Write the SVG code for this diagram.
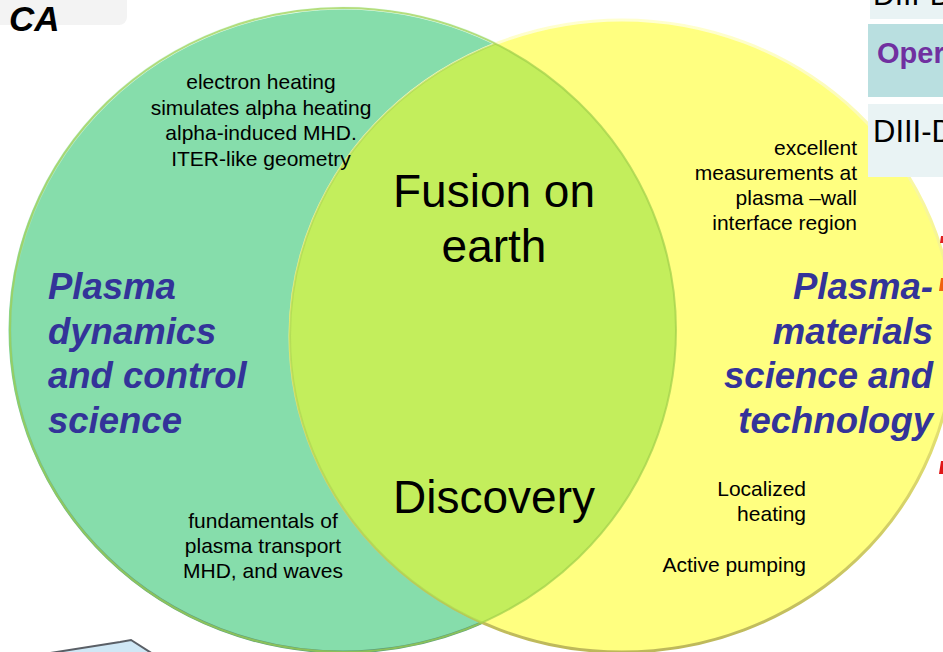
<svg xmlns="http://www.w3.org/2000/svg" width="943" height="652" viewBox="0 0 943 652">
<defs>
<style>
.t{font-family:"Liberation Sans",Arial,sans-serif;fill:#000}
.s{font-size:21px}
.big{font-size:46px}
.h{font-family:"Liberation Sans",Arial,sans-serif;font-size:36.5px;font-weight:bold;font-style:italic;fill:#333399}
.c{text-anchor:middle}
.e{text-anchor:end}
</style>
<linearGradient id="gs" x1="0" y1="0" x2="0" y2="1">
<stop offset="0" stop-color="#e8fff2"/>
<stop offset="0.5" stop-color="#7fd6a4"/>
<stop offset="1" stop-color="#5c9f7b"/>
</linearGradient>
<linearGradient id="ys" x1="0" y1="0" x2="0" y2="1">
<stop offset="0" stop-color="#ffffd0"/>
<stop offset="0.5" stop-color="#f2f07a"/>
<stop offset="1" stop-color="#bdb85a"/>
</linearGradient>
<clipPath id="gclip"><ellipse cx="343" cy="330" rx="333" ry="322"/></clipPath>
</defs>
<rect width="943" height="652" fill="#ffffff"/>
<rect x="-10" y="-10" width="137" height="35" rx="8" fill="#f3f3f3"/>
<g id="box-top">
<rect x="870" y="-5" width="80" height="24" fill="#e9f3f4"/>
<text class="t" x="873" y="5" font-size="30">DIII-D</text>
</g>
<g id="box-oper">
<rect x="868" y="24" width="80" height="73" fill="#b9dfe0"/>
<text x="877" y="63" font-family="Liberation Sans,Arial,sans-serif" font-size="29" font-weight="bold" fill="#7030a0">Operations</text>
</g>
<g id="circle-left">
<ellipse cx="343" cy="330" rx="333" ry="322" fill="#86ddab" stroke="url(#gs)" stroke-width="3"/>
</g>
<g id="circle-right">
<ellipse cx="622" cy="336" rx="332" ry="316" fill="#ffff80" stroke="url(#ys)" stroke-width="3"/>
</g>
<g id="overlap">
<ellipse cx="622" cy="336" rx="332" ry="316" fill="#c3ee5c" clip-path="url(#gclip)"/>
<ellipse cx="343" cy="330" rx="333" ry="322" fill="none" stroke="#9fcf4c" stroke-width="2" opacity="0.7"/>
<ellipse cx="622" cy="336" rx="332" ry="316" fill="none" stroke="#a9d451" stroke-width="2" opacity="0.6" clip-path="url(#gclip)"/>
</g>
<g id="box-diiid">
<rect x="868" y="104" width="80" height="73" fill="#e9f3f4"/>
<text class="t" x="873" y="142" font-size="31">DIII-D</text>
</g>
<g id="connectors"></g>
<g id="label-ca">
<text x="9" y="31" font-family="Liberation Sans,Arial,sans-serif" font-size="35" font-weight="bold" font-style="italic" fill="#000">CA</text>
</g>
<g id="label-electron">
<text class="t s c" x="261" y="89">electron heating</text>
<text class="t s c" x="261" y="114.5">simulates alpha heating</text>
<text class="t s c" x="261" y="140">alpha-induced MHD.</text>
<text class="t s c" x="261" y="165.5">ITER-like geometry</text>
</g>
<g id="label-fusion">
<text class="t big c" x="494" y="207">Fusion on</text>
<text class="t big c" x="494" y="262">earth</text>
</g>
<g id="label-plasma-dynamics">
<text class="h" x="48" y="299">Plasma</text>
<text class="h" x="48" y="343.5">dynamics</text>
<text class="h" x="48" y="388">and control</text>
<text class="h" x="48" y="432.5">science</text>
</g>
<g id="label-plasma-materials">
<text class="h e" x="933" y="299">Plasma-</text>
<text class="h e" x="933" y="343.5">materials</text>
<text class="h e" x="933" y="388">science and</text>
<text class="h e" x="933" y="432.5">technology</text>
</g>
<g id="label-excellent">
<text class="t s e" x="857" y="155">excellent</text>
<text class="t s e" x="857" y="180">measurements at</text>
<text class="t s e" x="857" y="205">plasma –wall</text>
<text class="t s e" x="857" y="230">interface region</text>
</g>
<g id="label-discovery">
<text class="t big c" x="494" y="513">Discovery</text>
</g>
<g id="label-fundamentals">
<text class="t s c" x="263" y="528">fundamentals of</text>
<text class="t s c" x="263" y="553">plasma transport</text>
<text class="t s c" x="263" y="578">MHD, and waves</text>
</g>
<g id="label-localized">
<text class="t s e" x="806" y="496">Localized</text>
<text class="t s e" x="806" y="521">heating</text>
</g>
<g id="label-pumping">
<text class="t s e" x="806" y="572">Active pumping</text>
</g>
<g id="edge-marks">
<polygon points="941,236 943,236 943,243 940,243" fill="#e02020"/>
<polygon points="941,278 943,278 943,291 939,291" fill="#f06010"/>
<polygon points="941,461 943,461 943,474 939,474" fill="#e01818"/>
</g>
<g id="bottom-shape">
<path d="M44,654 L120,642 L131,640 L153,654 Z" fill="#cfe7f5" stroke="#5a5f66" stroke-width="2"/>
</g>
</svg>
